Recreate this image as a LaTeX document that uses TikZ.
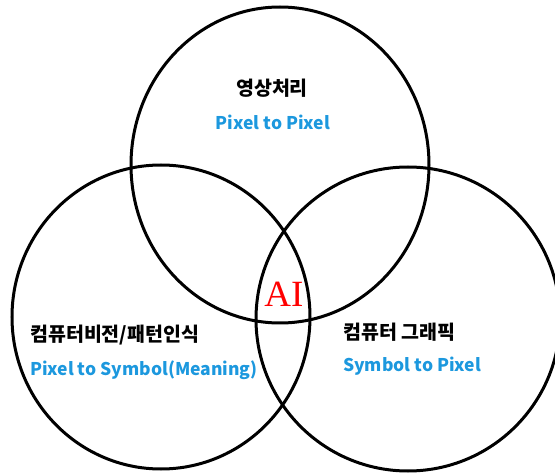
\documentclass[tikz,border=0pt]{standalone}
\usepackage{fontspec}
\setmainfont{Noto Sans CJK KR}
\newfontfamily\aifont{Liberation Serif}
\definecolor{mapblue}{RGB}{28,152,222}
\definecolor{aired}{RGB}{255,0,0}
\tikzset{
  venn/.style={line width=3pt},
  field/.style={inner sep=0pt, font=\bfseries\fontsize{19.5}{19}\selectfont},
  mapping/.style={inner sep=0pt, text=mapblue, font=\bfseries\fontsize{17.5}{17}\selectfont},
}
\begin{document}
\begin{tikzpicture}[x=1pt,y=-1pt]
    \useasboundingbox (0,0) rectangle (555,473);

    \draw[venn] (280,165) ellipse (149 and 158);
    \draw[venn] (161,317) ellipse (149 and 152);
    \draw[venn] (408,319) ellipse (152 and 152);

    \node[field] (imgproc) at (272,88) {영상처리};
    \node[mapping] (imgprocmap) at (273,122) {Pixel to Pixel};

    \node[field, anchor=west] (vision) at (30,335) {컴퓨터비전/패턴인식};
    \node[mapping, anchor=west] (visionmap) at (30,370) {Pixel to Symbol(Meaning)};

    \node[field, anchor=west] (graphics) at (343,332) {컴퓨터 그래픽};
    \node[mapping, anchor=west] (graphicsmap) at (343,366) {Symbol to Pixel};

    \node[inner sep=0pt, text=aired, font=\aifont\fontsize{37}{37}\selectfont] (ai) at (284,294) {AI};
\end{tikzpicture}
\end{document}
